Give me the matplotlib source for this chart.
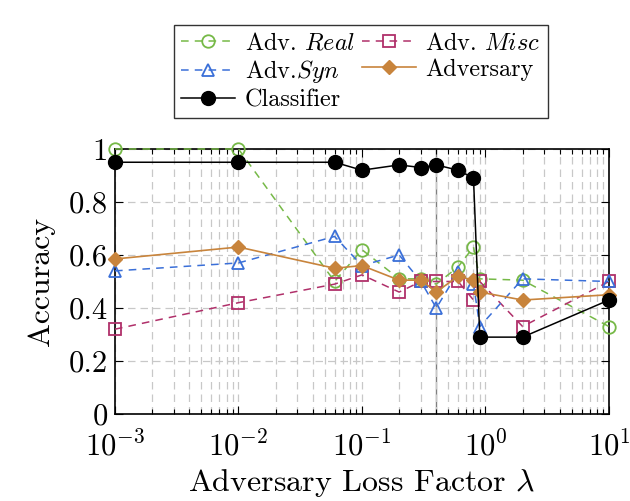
import numpy as np
import matplotlib
matplotlib.use("Agg")
import matplotlib.pyplot as plt
from matplotlib.ticker import LogLocator, FixedLocator, FuncFormatter, NullFormatter

plt.rcParams['font.family'] = 'serif'
plt.rcParams['font.serif'] = ['cmr10', 'DejaVu Serif']
plt.rcParams['mathtext.fontset'] = 'cm'
plt.rcParams['axes.formatter.use_mathtext'] = True
plt.rcParams['axes.unicode_minus'] = False

# lambda values
lam = [0.001, 0.01, 0.06, 0.1, 0.2, 0.3, 0.4, 0.6, 0.8, 0.9, 2, 10]

adv_real = [1.0, 1.0, 0.50, 0.62, 0.51, 0.51, 0.49, 0.555, 0.63, 0.51, 0.505, 0.33]
adv_misc = [0.32, 0.42, 0.49, 0.525, 0.46, 0.50, 0.50, 0.50, 0.43, 0.50, 0.33, 0.50]
adv_syn = [0.54, 0.57, 0.67, 0.56, 0.60, 0.50, 0.40, 0.535, 0.49, 0.33, 0.51, 0.50]
adversary = [0.585, 0.63, 0.55, 0.56, 0.505, 0.505, 0.46, 0.52, 0.505, 0.46, 0.43, 0.45]
classifier = [0.95, 0.95, 0.95, 0.92, 0.94, 0.93, 0.94, 0.92, 0.89, 0.29, 0.29, 0.43]

c_green = '#76b947'
c_red = '#b0306a'
c_blue = '#3a6fd8'
c_orange = '#c8843c'

fig = plt.figure(figsize=(6.3, 5.01), dpi=100)
ax = fig.add_axes([0.1825, 0.1737, 0.7841, 0.5289])

ax.axvline(0.4, color='#808080', lw=1.0, zorder=1)

l_real, = ax.plot(lam, adv_real, color=c_green, ls=(0, (5, 4)), lw=1.1, marker='o', ms=9,
                  mfc='none', mew=1.3, label=r'Adv. $\mathit{Real}$', clip_on=False, zorder=3)
l_misc, = ax.plot(lam, adv_misc, color=c_red, ls=(0, (5, 4)), lw=1.1, marker='s', ms=9,
                  mfc='none', mew=1.3, label=r'Adv. $\mathit{Misc}$', clip_on=False, zorder=3)
l_syn, = ax.plot(lam, adv_syn, color=c_blue, ls=(0, (5, 4)), lw=1.1, marker='^', ms=9,
                 mfc='none', mew=1.3, label=r'Adv.$\mathit{Syn}$', clip_on=False, zorder=3)
l_adv, = ax.plot(lam, adversary, color=c_orange, ls='-', lw=1.2, marker='D', ms=7,
                 label='Adversary', clip_on=False, zorder=4)
l_cls, = ax.plot(lam, classifier, color='black', ls='-', lw=1.1, marker='o', ms=10,
                 label='Classifier', clip_on=False, zorder=5)

ax.set_xscale('log')
ax.set_xlim(1e-3, 10)
ax.set_ylim(0, 1)

ax.xaxis.set_major_locator(LogLocator(base=10, numticks=10))
ax.xaxis.set_minor_locator(LogLocator(base=10, subs=np.arange(2, 10), numticks=20))
ax.xaxis.set_minor_formatter(NullFormatter())
ax.yaxis.set_major_locator(FixedLocator([0, 0.2, 0.4, 0.6, 0.8, 1.0]))
ax.yaxis.set_major_formatter(FuncFormatter(lambda v, p: '%g' % v))

ax.grid(which='major', color='#c8c8c8', ls=(0, (6, 4)), lw=0.9)
ax.grid(which='minor', axis='x', color='#c8c8c8', ls=(0, (6, 4)), lw=0.9)

ax.tick_params(which='both', direction='in', top=True, right=True, labelsize=22)
ax.tick_params(axis='x', pad=12)
ax.tick_params(axis='y', pad=5)
ax.tick_params(which='major', length=6, width=0.8)
ax.tick_params(which='minor', length=3.5, width=0.8)
for s in ax.spines.values():
    s.set_linewidth(1.2)

ax.set_xlabel(r'Adversary Loss Factor $\lambda$', fontsize=23, labelpad=4)
ax.set_ylabel('Accuracy', fontsize=23, labelpad=10)

handles = [l_real, l_syn, l_cls, l_misc, l_adv]
leg = fig.legend(handles=handles, loc='upper center', bbox_to_anchor=(0.573, 0.974), ncol=2,
                 fontsize=17.5, frameon=True, fancybox=False, edgecolor='black',
                 handlelength=2.2, handletextpad=0.4, columnspacing=0.3, labelspacing=0.15,
                 borderpad=0.3)
leg.get_frame().set_linewidth(1.0)

fig.savefig('out.png', dpi=100)
